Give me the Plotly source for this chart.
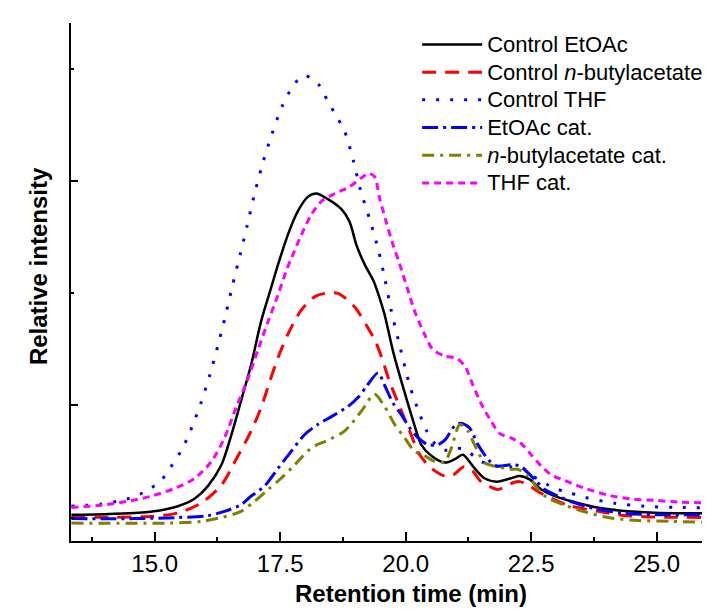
import plotly.graph_objects as go

# ---------------- data ----------------
ctrl_etoac_x = [13.34, 14.0, 14.6, 15.07, 15.46, 15.80, 16.06, 16.33, 16.53, 16.72, 16.92, 17.12, 17.32, 17.46,
                17.66, 17.85, 18.05, 18.22, 18.45, 18.72, 18.88, 19.02, 19.18, 19.35, 19.45, 19.58, 19.75, 19.95,
                20.15, 20.31, 20.51, 20.78, 20.98, 21.14, 21.37, 21.57, 21.82, 22.10, 22.27, 22.47, 22.70, 22.97,
                23.30, 23.76, 24.30, 24.96, 25.60, 26.22]
ctrl_etoac_y = [0.025, 0.03, 0.04, 0.06, 0.10, 0.17, 0.28, 0.47, 0.74, 1.04, 1.36, 1.75, 2.05, 2.26,
                2.53, 2.73, 2.86, 2.89, 2.84, 2.75, 2.64, 2.43, 2.26, 2.12, 2.00, 1.81, 1.48, 1.16,
                0.86, 0.65, 0.55, 0.49, 0.52, 0.56, 0.44, 0.35, 0.32, 0.35, 0.37, 0.34, 0.25, 0.19,
                0.145, 0.094, 0.061, 0.043, 0.038, 0.037]

ctrl_nba_x = [13.34, 14.2, 14.93, 15.46, 15.93, 16.33, 16.66, 16.92, 17.12, 17.29, 17.46, 17.66, 17.92, 18.19,
              18.40, 18.65, 18.98, 19.25, 19.41, 19.55, 19.68, 19.88, 20.08, 20.28, 20.51, 20.78, 20.95, 21.15,
              21.32, 21.50, 21.70, 21.84, 22.14, 22.27, 22.45, 22.64, 23.23, 23.83, 24.30, 24.76, 25.36, 26.22]
ctrl_nba_y = [0.0, 0.003, 0.01, 0.04, 0.13, 0.29, 0.55, 0.77, 0.98, 1.21, 1.43, 1.64, 1.85, 1.97,
              2.00, 2.00, 1.88, 1.69, 1.56, 1.39, 1.21, 0.99, 0.77, 0.56, 0.44, 0.37, 0.38, 0.45,
              0.42, 0.32, 0.27, 0.25, 0.31, 0.32, 0.29, 0.23, 0.11, 0.055, 0.02, 0.007, 0.002, 0.0]

ctrl_thf_x = [13.34, 13.64, 13.94, 14.25, 14.55, 14.85, 15.15, 15.36, 15.54, 15.68, 15.80, 15.91, 16.10, 16.26,
              16.41, 16.55, 16.70, 16.84, 16.98, 17.14, 17.32, 17.54, 17.69, 17.91, 18.02, 18.29, 18.45, 18.62,
              18.78, 18.96, 19.10, 19.29, 19.46, 19.59, 19.71, 19.85, 20.08, 20.28, 20.41, 20.58, 20.80, 21.00,
              21.20, 21.50, 21.80, 22.10, 22.34, 22.50, 22.97, 23.27, 23.57, 24.16, 24.76, 25.36, 26.22]
ctrl_thf_y = [0.10, 0.109, 0.12, 0.144, 0.18, 0.239, 0.343, 0.477, 0.605, 0.739, 0.873, 1.006, 1.274, 1.536,
              1.80, 2.07, 2.34, 2.60, 2.87, 3.14, 3.40, 3.67, 3.80, 3.93, 3.94, 3.85, 3.71, 3.58,
              3.45, 3.18, 2.92, 2.65, 2.38, 2.12, 1.85, 1.59, 1.18, 0.92, 0.78, 0.66, 0.60, 0.62,
              0.60, 0.50, 0.46, 0.45, 0.44, 0.38, 0.26, 0.22, 0.18, 0.127, 0.10, 0.09, 0.085]

etoac_cat_x = [13.34, 14.6, 15.46, 16.06, 16.39, 16.72, 16.92, 17.19, 17.46, 17.72, 17.99, 18.25, 18.52, 18.85,
               19.05, 19.22, 19.45, 19.58, 19.75, 19.91, 20.08, 20.25, 20.44, 20.64, 20.78, 20.98, 21.10, 21.27,
               21.44, 21.64, 21.80, 22.10, 22.27, 22.57, 22.77, 23.04, 23.37, 23.76, 24.30, 24.96, 26.22]
etoac_cat_y = [-0.01, -0.01, 0.0, 0.016, 0.055, 0.114, 0.19, 0.28, 0.44, 0.59, 0.74, 0.83, 0.90, 0.99,
               1.07, 1.17, 1.29, 1.18, 1.02, 0.92, 0.80, 0.71, 0.65, 0.65, 0.69, 0.82, 0.84, 0.80,
               0.65, 0.52, 0.46, 0.47, 0.46, 0.34, 0.25, 0.19, 0.13, 0.08, 0.04, 0.025, 0.025]

nba_cat_x = [13.34, 15.26, 15.93, 16.33, 16.72, 16.99, 17.26, 17.52, 17.79, 18.12, 18.45, 18.78, 19.12, 19.38,
             19.58, 19.78, 19.98, 20.18, 20.38, 20.58, 20.78, 20.91, 21.08, 21.24, 21.37, 21.57, 21.67, 22.10,
             22.23, 22.44, 22.64, 22.84, 23.17, 23.57, 24.03, 24.56, 25.29, 26.22]
nba_cat_y = [-0.05, -0.05, -0.035, 0.0, 0.055, 0.145, 0.25, 0.35, 0.47, 0.62, 0.69, 0.77, 0.95, 1.10,
             0.99, 0.83, 0.71, 0.59, 0.55, 0.50, 0.50, 0.62, 0.83, 0.77, 0.65, 0.49, 0.47, 0.43,
             0.43, 0.37, 0.25, 0.17, 0.11, 0.05, 0.0, -0.025, -0.035, -0.045]

thf_cat_x = [13.34, 13.94, 14.47, 14.93, 15.40, 15.80, 16.13, 16.39, 16.63, 16.86, 17.06, 17.26, 17.46, 17.62,
             17.72, 17.92, 18.12, 18.32, 18.59, 18.88, 19.12, 19.26, 19.38, 19.48, 19.61, 19.75, 19.88, 20.05,
             20.18, 20.38, 20.54, 20.78, 21.01, 21.18, 21.34, 21.51, 21.70, 21.87, 22.10, 22.30, 22.50, 22.70,
             22.90, 23.17, 23.57, 24.03, 24.50, 24.96, 25.42, 26.22]
thf_cat_y = [0.09, 0.11, 0.145, 0.19, 0.26, 0.35, 0.50, 0.71, 0.99, 1.24, 1.50, 1.75, 1.99, 2.20,
             2.31, 2.52, 2.70, 2.82, 2.89, 2.95, 3.03, 3.07, 3.04, 2.85, 2.64, 2.43, 2.26, 2.02,
             1.84, 1.63, 1.50, 1.44, 1.42, 1.35, 1.18, 1.01, 0.86, 0.75, 0.71, 0.66, 0.56, 0.46,
             0.38, 0.33, 0.26, 0.20, 0.165, 0.153, 0.138, 0.13]

series_names = ["Control EtOAc", "Control <i>n</i>-butylacetate", "Control THF",
                "EtOAc cat.", "<i>n</i>-butylacetate cat.", "THF cat."]

x_tick_vals = [15.0, 17.5, 20.0, 22.5, 25.0]
x_tick_text = ["15.0", "17.5", "20.0", "22.5", "25.0"]
x_minor_vals = [13.75, 16.25, 18.75, 21.25, 23.75, 26.25]
y_major_vals = [1, 3]
y_minor_vals = [0, 2, 4]

x_title = "Retention time (min)"
y_title = "Relative intensity"

# ---------------- styles ----------------
FONT = "Liberation Sans, Arial, sans-serif"
styles = [
    dict(color="#000000", width=2.5, dash="solid"),
    dict(color="#ff0000", width=3, dash="14px,9px"),
    dict(color="#0000ff", width=3, dash="3px,11px"),
    dict(color="#0000ff", width=3, dash="16px,5px,3px,5px"),
    dict(color="#808000", width=3, dash="12px,6px,3px,6px"),
    dict(color="#ff00ff", width=3, dash="7px,5px"),
]
data = [(ctrl_etoac_x, ctrl_etoac_y), (ctrl_nba_x, ctrl_nba_y), (ctrl_thf_x, ctrl_thf_y),
        (etoac_cat_x, etoac_cat_y), (nba_cat_x, nba_cat_y), (thf_cat_x, thf_cat_y)]

fig = go.Figure()
for (xs, ys), name, st in zip(data, series_names, styles):
    fig.add_trace(go.Scatter(x=xs, y=ys, name='<span style="font-size:22px">' + name + '</span>',
                             mode="lines", line=dict(shape="spline", smoothing=0.8, **st)))

fig.update_layout(
    width=710, height=609,
    margin=dict(l=63, r=0, t=15, b=76),
    paper_bgcolor="white", plot_bgcolor="white",
    font=dict(family=FONT, size=24, color="black"),
    showlegend=True,
    legend=dict(x=0.535, y=0.995, xanchor="left", yanchor="top",
                font=dict(family=FONT, size=19, color="black"),
                itemwidth=60, bgcolor="rgba(0,0,0,0)", borderwidth=0,
                tracegroupgap=0),
)
fig.update_xaxes(
    range=[13.333, 26.222], showline=True, linecolor="black", linewidth=2,
    showgrid=False, zeroline=False, mirror=False,
    tickmode="array", tickvals=x_tick_vals, ticktext=x_tick_text,
    ticks="inside", ticklen=9, tickwidth=1.5, tickcolor="black",
    tickfont=dict(family=FONT, size=24, color="black"),
    minor=dict(tickmode="array", tickvals=x_minor_vals, ticks="inside", ticklen=4,
               tickwidth=1.5, tickcolor="black", showgrid=False),
)
fig.update_yaxes(
    range=[-0.2096, 4.411], showline=True, linecolor="black", linewidth=2,
    showgrid=False, zeroline=False, mirror=False,
    tickmode="array", tickvals=y_major_vals, showticklabels=False,
    ticks="inside", ticklen=7, tickwidth=1.5, tickcolor="black",
    minor=dict(tickmode="array", tickvals=y_minor_vals, ticks="inside", ticklen=3,
               tickwidth=1.5, tickcolor="black", showgrid=False),
)
fig.add_annotation(text="<b>" + x_title + "</b>", xref="paper", yref="paper",
                   x=0.525, y=-0.102, xanchor="center", yanchor="middle", showarrow=False,
                   borderpad=0,
                   font=dict(family=FONT, size=24, color="black"))
fig.add_annotation(text="<b>" + y_title + "</b>", xref="paper", yref="paper",
                   x=-0.05, y=0.53, xanchor="center", yanchor="middle", showarrow=False,
                   textangle=-90, font=dict(family=FONT, size=24, color="black"))

fig.write_html("out.html")
